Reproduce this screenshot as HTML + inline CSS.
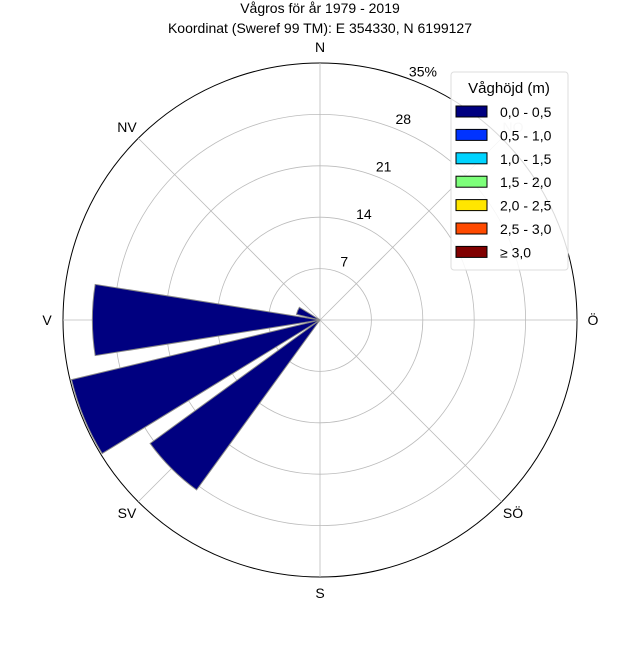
<!DOCTYPE html>
<html><head><meta charset="utf-8"><style>
body{margin:0;background:#fff;font-family:"Liberation Sans","DejaVu Sans",sans-serif}
svg text{font-family:"Liberation Sans","DejaVu Sans",sans-serif}
</style></head><body>
<svg id="chart" width="640" height="640" viewBox="0 0 640 640">
<rect width="640" height="640" fill="#fff"/>
<text x="320" y="13" text-anchor="middle" font-size="14">Vågros för år 1979 - 2019</text>
<text x="320" y="33" text-anchor="middle" font-size="14">Koordinat (Sweref 99 TM): E 354330, N 6199127</text>
<g id="grid"></g>
<g id="bars"></g>
<g id="labels"></g>
<g id="legend"></g>
</svg>
<script>
const directions = ["N","NNO","NO","ONO","Ö","OSO","SÖ","SSO","S","SSV","SV","VSV","V","VNV","NV","NNV"];
const values = [0,0,0,0,0,0,0,0,0,0,28.6,34.8,31,3.3,0,0];
const rTicks = [7,14,21,28,35];
const rTickLabels = ["7","14","21","28","35%"];
const legendLabels = ["0,0 - 0,5","0,5 - 1,0","1,0 - 1,5","1,5 - 2,0","2,0 - 2,5","2,5 - 3,0","≥ 3,0"];
const legendColors = ["#000080","#0033ff","#00d4ff","#7dff7a","#ffe600","#ff4a00","#800000"];

const NS="http://www.w3.org/2000/svg";
const cx=320, cy=320, R=257, rMax=35;
const rs=v=>v/rMax*R;
const pt=(deg,r)=>[cx+r*Math.sin(deg*Math.PI/180), cy-r*Math.cos(deg*Math.PI/180)];
function mk(tag,attrs,parent){const e=document.createElementNS(NS,tag);for(const k in attrs)e.setAttribute(k,attrs[k]);parent.appendChild(e);return e;}
const grid=document.getElementById('grid'), bars=document.getElementById('bars'), labels=document.getElementById('labels'), legend=document.getElementById('legend');

rTicks.forEach((t,i)=>{
  const c=mk('circle',{cx,cy,r:rs(t),fill:'none',stroke:i===rTicks.length-1?'#000':'#bbb','stroke-width':i===rTicks.length-1?1:0.8},grid);
  
  
});
for(let a=0;a<360;a+=45){
  const [x,y]=pt(a,R);
  const l=mk('line',{x1:cx,y1:cy,x2:x,y2:y,stroke:'#bbb','stroke-width':0.8},grid);
  
  
}
const width=18;
values.forEach((v,i)=>{
  if(v<=0)return;
  const a=i*22.5, r=rs(v);
  const [x1,y1]=pt(a-width/2,r),[x2,y2]=pt(a+width/2,r);
  const p=mk('path',{d:`M${cx},${cy}L${x1},${y1}A${r},${r} 0 0 1 ${x2},${y2}Z`,fill:legendColors[0],stroke:'#888','stroke-width':1},bars);
  
  
});
const compass=["N","NO","Ö","SÖ","S","SV","V","NV"];
compass.forEach((d,i)=>{
  const [x,y]=pt(i*45,R+16);
  const t=mk('text',{x,y:y+5,'text-anchor':'middle','font-size':14,fill:d==="NO"?'#ccc':'#000'},labels);
  t.textContent=d;
  
  
});
rTicks.forEach((t,i)=>{
  const [x,y]=pt(22.5,rs(t)+12);
  const e=mk('text',{x,y:y+5,'text-anchor':'middle','font-size':14},labels);
  e.textContent=rTickLabels[i];
  
  
});
const box=mk('rect',{x:451,y:72,width:117,height:198,rx:3,fill:'#fff','fill-opacity':0.85,stroke:'#ddd'},legend);


const lt=mk('text',{x:509,y:93,'text-anchor':'middle','font-size':15},legend);
lt.textContent="Våghöjd (m)";


legendLabels.forEach((l,i)=>{
  const y=112+i*23.4;
  const r=mk('rect',{x:456,y:y-6,width:31,height:11,fill:legendColors[i],stroke:'#000','stroke-width':1},legend);
  
  
  const t=mk('text',{x:500,y:y+5,'font-size':14},legend);
  t.textContent=l;
  
  
});
</script>
</body></html>
